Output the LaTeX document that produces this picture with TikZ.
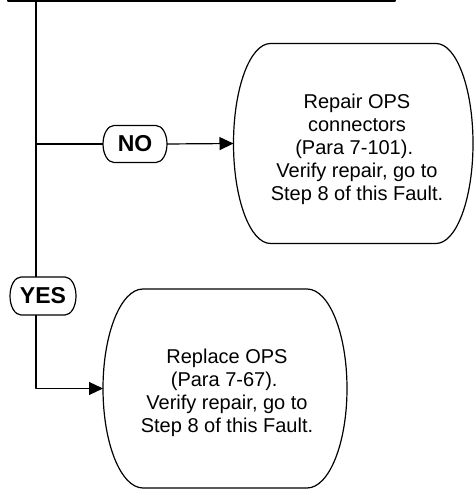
\documentclass[tikz,border=0pt]{standalone}
\usepackage{fontspec}
\setmainfont{Liberation Sans}
\usetikzlibrary{arrows.meta}

\tikzset{
  flow/.style={line width=1.2pt, line join=round},
  arrowline/.style={flow, -{Triangle[length=14pt,width=13pt]}},
  anchorbox/.style={inner sep=0pt, outer sep=0pt},
  steptext/.style={align=center, inner sep=0pt, font=\fontsize{20}{23}\selectfont},
  answer/.style={font=\bfseries\fontsize{23}{26}\selectfont},
}

% Outline with straight top/bottom and half-ellipse ends,
% drawn round a named node: #1 node, #2 cap x radius, #3 half height
\newcommand\capsuleoutline[3]{%
  \draw[flow] ([xshift=#2]#1.north west) -- ([xshift=-#2]#1.north east)
    arc[start angle=90, end angle=-90, x radius=#2, y radius=#3]
    -- ([xshift=#2]#1.south west)
    arc[start angle=270, end angle=90, x radius=#2, y radius=#3] -- cycle;}

\begin{document}
\begin{tikzpicture}[x=1pt, y=1pt]
  \useasboundingbox (0,0) rectangle (474,489);

  % previous step box (only its lower edge is on the page)
  \node[anchorbox, flow, draw, minimum width=387, minimum height=40,
        anchor=south west] (prev) at (8,488) {};
  \path (prev.south west) ++(28,0) coordinate (trunk);

  % answers
  \node[anchorbox, answer, minimum width=64, minimum height=37] (no) at (135,345) {NO};
  \capsuleoutline{no}{11}{18.5}
  \node[anchorbox, answer, minimum width=66, minimum height=38] (yes) at (43,193) {YES};
  \capsuleoutline{yes}{11}{19}

  % action boxes
  \node[anchorbox, minimum width=239.5, minimum height=200] (repair) at (353.25,345.5) {};
  \capsuleoutline{repair}{37}{100}
  \node[steptext] (repairtext) at (357,340)
    {Repair OPS\\connectors\\(Para 7-101).\kern5.6pt\\Verify repair, go to\\Step 8 of this Fault.};

  \node[anchorbox, minimum width=244, minimum height=199] (replace) at (225,100.5) {};
  \capsuleoutline{replace}{40}{99.5}
  \node[steptext] (replacetext) at (227,96.5)
    {Replace OPS\\(Para 7-67).\kern5.6pt\\Verify repair, go to\\Step 8 of this Fault.};

  % connectors
  \draw[flow] (trunk) -- (trunk |- yes.north);
  \draw[flow] (trunk |- no.west) -- (no.west);
  \draw[arrowline] (no.east) -- (repair.west);
  \draw[arrowline] (trunk |- yes.south) |- (replace.west);
\end{tikzpicture}
\end{document}
